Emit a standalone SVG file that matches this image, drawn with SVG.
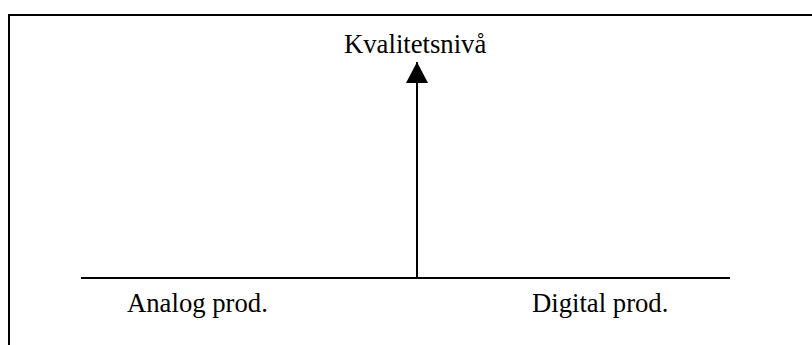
<svg xmlns="http://www.w3.org/2000/svg" width="812" height="345" viewBox="0 0 812 345">
  <style>
    .frame { fill: none; stroke: #000; stroke-width: 2; }
    .line { stroke: #000; stroke-width: 2; fill: none; }
    .label { font-family: "Liberation Serif", "Times New Roman", serif; font-size: 26.7px; fill: #000; }
  </style>
  <defs>
    <marker id="arrow" markerUnits="userSpaceOnUse" markerWidth="22" markerHeight="22" viewBox="0 0 22 22" refX="21" refY="11" orient="auto">
      <path d="M0,0 L21,11 L0,22 Z" fill="#000"/>
    </marker>
  </defs>
  <rect class="frame" x="9" y="15" width="820" height="360"/>
  <g id="connectors">
    <line class="line" x1="81" y1="278" x2="730" y2="278"/>
    <line class="line" x1="417" y1="278" x2="417" y2="62" marker-end="url(#arrow)"/>
  </g>
  <g id="quality">
    <text class="label" x="344" y="53">Kvalitetsnivå</text>
  </g>
  <g id="analog">
    <text class="label" x="127" y="312">Analog prod.</text>
  </g>
  <g id="digital">
    <text class="label" x="532" y="312">Digital prod.</text>
  </g>
</svg>
